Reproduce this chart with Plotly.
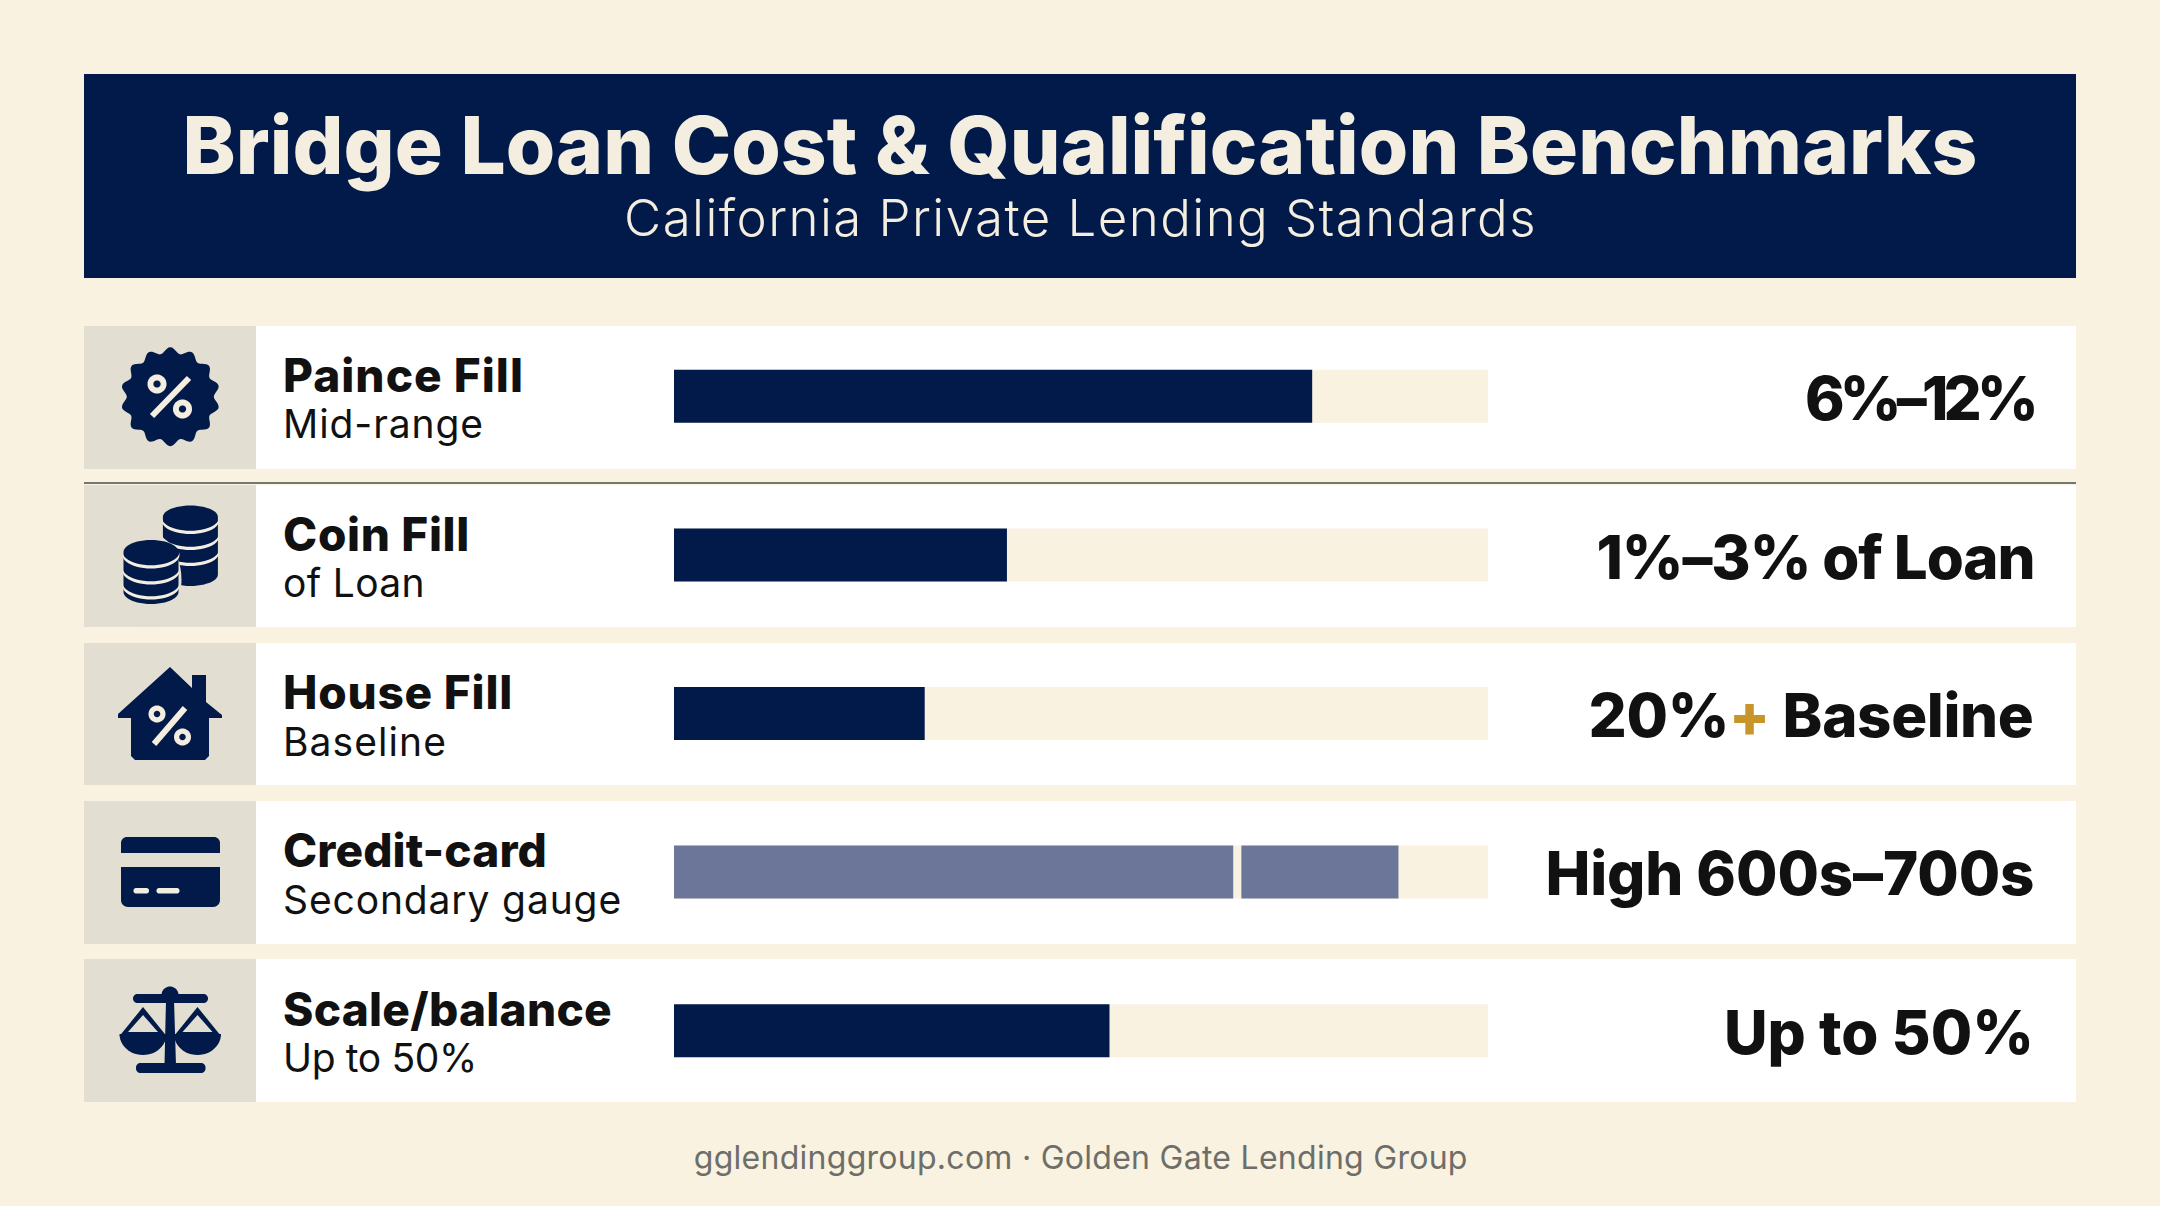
import json
import math
import plotly.graph_objects as go

# ---- data ----
categories = ["Paince Fill", "Coin Fill", "House Fill", "Credit-card", "Scale/balance"]
subtitles = ["Mid-range", "of Loan", "Baseline", "Secondary gauge", "Up to 50%"]
value_labels = ["6%–12%", "1%–3% of Loan", "20%<span style='color:#C8952B'>+</span> Baseline",
                "High 600s–700s", "Up to 50%"]
track_values = [100, 100, 100, 100, 100]
fill_values = [78.4, 40.9, 30.8, None, 53.5]
credit_first = [None, None, None, 68.7, None]
credit_second_base = [None, None, None, 69.7, None]
credit_second = [None, None, None, 19.3, None]

TITLE = "Bridge Loan Cost & Qualification Benchmarks"
SUBTITLE = "California Private Lending Standards"
FOOTER = "gglendinggroup.com · Golden Gate Lending Group"

# widths of the text runs as measured on the reference, in px
name_widths = [241, 187, 230, 264, 329]
sub_widths = [201, 142, 164, 339, 194]
value_widths = [229, 438, 445, 489, 310]

# ---- style ----
W, H = 2160, 1206
BG = "#F9F2E1"
NAVY = "#021A4A"
PANEL = "#E2DED1"
TRACK = "#F9F2E1"
SLATE = "#6B7699"
INK = "#111111"
PALE = "#F3EEDF"
FONT = "Inter"
ROW_TOPS = [326, 485, 643, 801, 959]
ROW_BOTS = [469, 627, 785, 944, 1102]
ROW_MID = [396.5, 555.5, 714, 872, 1030.5]

shapes = []


def rect(x0, y0, x1, y1, color):
    shapes.append(dict(type="rect", xref="x", yref="y", x0=x0, y0=y0, x1=x1, y1=y1,
                       fillcolor=color, line_width=0, layer="below"))


def poly(points, color):
    d = "M " + " L ".join(f"{x:.2f},{y:.2f}" for x, y in points) + " Z"
    shapes.append(dict(type="path", xref="x", yref="y", path=d, fillcolor=color,
                       line_width=0, layer="below"))


def ell_pts(cx, cy, rx, ry, a0=0, a1=360, n=48):
    return [(cx + rx * math.cos(math.radians(a0 + (a1 - a0) * i / n)),
             cy + ry * math.sin(math.radians(a0 + (a1 - a0) * i / n))) for i in range(n + 1)]


def ell(cx, cy, rx, ry, color):
    poly(ell_pts(cx, cy, rx, ry), color)


def thick(p0, p1, w, color):
    dx, dy = p1[0] - p0[0], p1[1] - p0[1]
    L = math.hypot(dx, dy)
    nx, ny = -dy / L * w / 2, dx / L * w / 2
    poly([(p0[0] + nx, p0[1] + ny), (p1[0] + nx, p1[1] + ny),
          (p1[0] - nx, p1[1] - ny), (p0[0] - nx, p0[1] - ny)], color)


def rrect(x0, y0, x1, y1, r, color, top=True, bottom=True):
    pts = []
    rt, rb = (r if top else 0.01), (r if bottom else 0.01)
    pts += ell_pts(x0 + rt, y0 + rt, rt, rt, 180, 270, 8)
    pts += ell_pts(x1 - rt, y0 + rt, rt, rt, 270, 360, 8)
    pts += ell_pts(x1 - rb, y1 - rb, rb, rb, 0, 90, 8)
    pts += ell_pts(x0 + rb, y1 - rb, rb, rb, 90, 180, 8)
    poly(pts, color)


def percent(a, b, c1, c2, r=9.5, color=PALE):
    thick(a, b, 6, color)
    for c in (c1, c2):
        ell(c[0], c[1], r, r, color)
        ell(c[0], c[1], r * 0.38, r * 0.38, NAVY)


# ---- page blocks ----
rect(84, 74, 2076, 278, NAVY)
for top, bot in zip(ROW_TOPS, ROW_BOTS):
    rect(84, top, 2076, bot, "#FFFFFF")
    rect(84, top, 256, bot, PANEL)
shapes.append(dict(type="line", xref="x", yref="y", x0=84, x1=2076, y0=483, y1=483,
                   line=dict(color="#4A4E50", width=1.5), layer="below"))

# ---- icon: badge ----
badge = []
for i in range(181):
    t = 2 * math.pi * i / 180
    rad = 46.5 + 3 * math.cos(14 * t)
    badge.append((170.3 + rad * math.sin(t), 396.7 - rad * math.cos(t)))
poly(badge, NAVY)
percent((189, 378), (152, 416), (157, 384), (182.5, 409))


# ---- icon: coins ----
def coins(cx, rx, ry, ytop, ybot, seps):
    body = ell_pts(cx, ybot - ry, rx, ry, 0, 180, 24) + ell_pts(cx, ytop, rx, ry, 180, 360, 24)
    poly(body, NAVY)
    for s in seps:
        arc_o = ell_pts(cx, s, rx + 1, ry + 1.5, 0, 180, 24)
        arc_i = ell_pts(cx, s - 3.2, rx + 1, ry + 1.5, 180, 0, 24)
        poly(arc_o + arc_i, PALE)


coins(190.4, 27.5, 11.5, 517, 586, [521, 537, 553])
poly(ell_pts(151, 580, 30.5, 46), PANEL)
coins(151, 27.5, 12, 552, 604, [555, 571, 586])

# ---- icon: house ----
poly([(170, 667), (192, 688), (192, 675), (206, 675), (206, 702), (222, 715), (222, 718),
      (209, 718), (209, 756), (205, 760), (135, 760), (131, 756), (131, 718), (118, 718),
      (118, 714)], NAVY)
percent((185, 708), (154, 744), (157, 714), (182.5, 737), r=8.5)

# ---- icon: card ----
rrect(121, 837, 220, 853, 6, NAVY, bottom=False)
rrect(121, 867, 220, 907, 7, NAVY, top=False)
rrect(133.5, 888, 149, 893.5, 2.5, PALE)
rrect(156.5, 888, 179.5, 893.5, 2.5, PALE)

# ---- icon: scale ----
rrect(133, 994, 208, 1003, 4.5, NAVY)
ell(170, 995, 8.5, 8.5, NAVY)
poly([(166, 1000), (174, 1000), (176, 1065), (164.5, 1065)], NAVY)
rrect(136, 1063, 205.5, 1073, 4.5, NAVY)
for cx in (143, 197.5):
    poly([(cx, 1007), (cx + 23.5, 1036), (cx - 23.5, 1036)], NAVY)
    poly([(cx, 1015), (cx + 15, 1032), (cx - 15, 1032)], PANEL)
    poly(ell_pts(cx, 1034, 23.5, 21, 0, 180, 24), NAVY)

# ---- text ----
ann = []
fit = []


def txt(x, y, s, size, color, weight, anchor, width):
    ann.append(dict(xref="x", yref="y", x=x, y=y, text=s, showarrow=False, xanchor=anchor,
                    yanchor="middle", font=dict(family=FONT, size=size, color=color, weight=weight)))
    fit.append([anchor, width])


txt(1080, 144, TITLE, 80, PALE, 800, "center", 1795)
txt(1080, 217, SUBTITLE, 51, PALE, 300, "center", 913)
for i in range(5):
    txt(281, ROW_MID[i] - 22, categories[i], 46, INK, 800, "left", name_widths[i])
    txt(281, ROW_MID[i] + 27, subtitles[i], 39, INK, 400, "left", sub_widths[i])
    txt(2036, ROW_MID[i] + 1, value_labels[i], 60, INK, 800, "right", value_widths[i])
txt(1080, 1157, FOOTER, 32, "#6E6E69", 400, "center", 774)

# ---- bars ----
bar_common = dict(y=categories, orientation="h", xaxis="x2", yaxis="y2", width=0.334,
                  hoverinfo="skip", showlegend=False)
fig = go.Figure()
fig.add_trace(go.Bar(x=track_values, marker=dict(color=TRACK, line_width=0), **bar_common))
fig.add_trace(go.Bar(x=fill_values, marker=dict(color=NAVY, line_width=0), **bar_common))
fig.add_trace(go.Bar(x=credit_first, marker=dict(color=SLATE, line_width=0), **bar_common))
fig.add_trace(go.Bar(x=credit_second, base=credit_second_base,
                     marker=dict(color=SLATE, line_width=0), **bar_common))

fig.update_layout(
    width=W, height=H, margin=dict(l=0, r=0, t=0, b=0, pad=0),
    paper_bgcolor=BG, plot_bgcolor="rgba(0,0,0,0)", barmode="overlay", showlegend=False,
    shapes=shapes, annotations=ann,
    xaxis=dict(domain=[0, 1], range=[0, W], visible=False, fixedrange=True, anchor="y"),
    yaxis=dict(domain=[0, 1], range=[H, 0], visible=False, fixedrange=True, anchor="x"),
    xaxis2=dict(domain=[674 / W, 1488 / W], range=[0, 100], visible=False, fixedrange=True, anchor="y2"),
    yaxis2=dict(domain=[1 - 1110 / H, 1 - 317 / H], type="category", autorange="reversed",
                visible=False, fixedrange=True, anchor="x2"),
)

post = """
document.body.style.margin='0';document.body.style.overflow='hidden';
var fit=%s;
document.querySelectorAll('text.annotation-text').forEach(function(t){
  var f=fit[+t.closest('.annotation').getAttribute('data-index')];
  var w0=t.getComputedTextLength(), n=t.textContent.length;
  var s=(f[1]-w0)/n;
  t.style.letterSpacing=s.toFixed(2)+'px';
  var grow=f[1]-w0;
  var x=parseFloat(t.getAttribute('x')||0);
  if(f[0]==='left'){t.setAttribute('x',x+grow/2);}
  if(f[0]==='right'){t.setAttribute('x',x-grow/2);}
});
""" % json.dumps(fit)
fig.write_html("out.html", config=dict(displayModeBar=False), post_script=post)
